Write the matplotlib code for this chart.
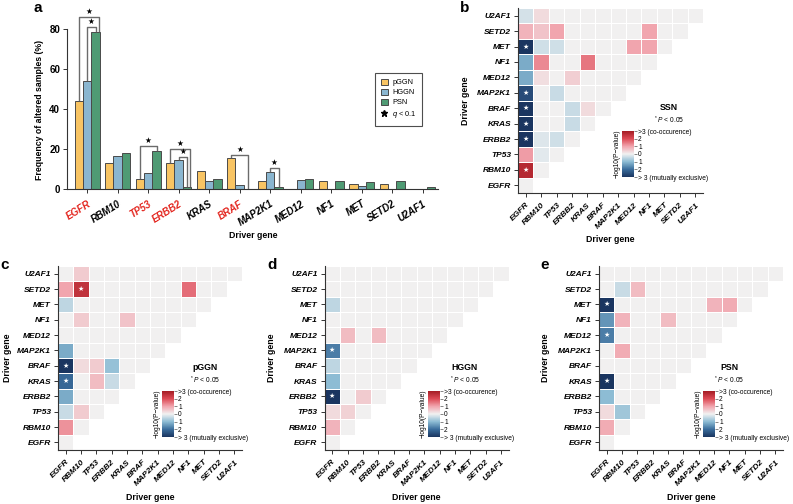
import numpy as np
import matplotlib
matplotlib.use("Agg")
import matplotlib.pyplot as plt
from matplotlib.colors import LinearSegmentedColormap, Normalize
from matplotlib.patches import Patch
from matplotlib.lines import Line2D

plt.rcParams["font.family"] = ["Liberation Sans", "DejaVu Sans"]
plt.rcParams["mathtext.fontset"] = "custom"
plt.rcParams["mathtext.rm"] = "Liberation Sans"
plt.rcParams["mathtext.it"] = "Liberation Sans:italic"

genes = ["EGFR", "RBM10", "TP53", "ERBB2", "KRAS", "BRAF", "MAP2K1",
         "MED12", "NF1", "MET", "SETD2", "U2AF1"]
red_genes = ["EGFR", "TP53", "ERBB2", "BRAF"]
groups = ["pGGN", "HGGN", "PSN"]

# frequency of altered samples (%)
pggn_freq = [44, 13, 5, 13, 9, 15.5, 4, 0, 4, 2.5, 2.5, 0]
hggn_freq = [54, 16.5, 8, 14.5, 4, 2, 8.5, 4.5, 0, 1.5, 0, 0]
psn_freq = [78.5, 18, 19, 1, 5, 0, 1, 5, 4, 3.5, 4, 1]

# significance brackets: gene, group a, group b, bracket height (%)
brackets = [("EGFR", 0, 2, 86), ("EGFR", 1, 2, 81),
            ("TP53", 0, 2, 21.5),
            ("ERBB2", 0, 2, 20), ("ERBB2", 1, 2, 16),
            ("BRAF", 0, 2, 17),
            ("MAP2K1", 1, 2, 10.5)]

# signed -log10(P): + co-occurrence, - mutual exclusivity
# one row per gene (EGFR at bottom), lower triangle only
ssn_rows = [
    [0],
    [2.7, 0],
    [1.1, -0.15, 0],
    [-3.5, -0.2, -0.35, 0],
    [-3.5, 0, 0, -0.4, 0],
    [-3.5, 0, 0, -0.4, 0.3, 0],
    [-2.6, 0, -0.4, 0, 0, 0, 0],
    [-1.2, 0.25, 0, 0.45, 0, 0, 0, 0],
    [-1.2, 1.3, 0, 0, 1.5, 0, 0, 0, 0],
    [-3.5, -0.35, -0.35, 0, 0, 0, 0, 1.0, 1.0, 0],
    [0.8, 0.6, 1.0, 0, 0, 0, 0, 0, 1.0, 0, 0],
    [-0.3, 0.3, 0, 0, 0, 0, 0, 0, 0, 0, 0, 0],
]
ssn_stars = [("RBM10", "EGFR"), ("ERBB2", "EGFR"), ("KRAS", "EGFR"),
             ("BRAF", "EGFR"), ("MAP2K1", "EGFR"), ("MET", "EGFR")]

pggn_rows = [
    [0],
    [1.2, 0],
    [-0.4, 0.5, 0],
    [-1.2, 0, 0, 0],
    [-2.1, 0, 0.7, -0.4, 0],
    [-3.5, 0.3, 0.5, -0.9, 0, 0],
    [-1.2, 0, 0, 0, 0, 0, 0],
    [0, 0, 0, 0, 0, 0, 0, 0],
    [0, 0.5, 0, 0, 0.6, 0, 0, 0, 0],
    [-0.5, 0, 0, 0, 0, 0, 0, 0, 0, 0],
    [1.0, 2.5, 0, 0, 0, 0, 0, 0, 1.6, 0, 0],
    [0, 0.5, 0, 0, 0, 0, 0, 0, 0, 0, 0, 0],
]
pggn_stars = [("KRAS", "EGFR"), ("BRAF", "EGFR"), ("SETD2", "RBM10")]

hggn_rows = [
    [0],
    [0.8, 0],
    [0.3, 0.4, 0],
    [-3.2, 0, 0.5, 0],
    [-1.0, 0, 0, 0, 0],
    [-0.5, 0, 0, 0, 0, 0],
    [-1.8, 0, 0, 0, 0, 0, 0],
    [0, 0.7, 0, 0.7, 0, 0, 0, 0],
    [0, 0, 0, 0, 0, 0, 0, 0, 0],
    [-0.5, 0, 0, 0, 0, 0, 0, 0, 0, 0],
    [0, 0, 0, 0, 0, 0, 0, 0, 0, 0, 0],
    [0, 0, 0, 0, 0, 0, 0, 0, 0, 0, 0, 0],
]
hggn_stars = [("ERBB2", "EGFR"), ("MAP2K1", "EGFR")]

psn_rows = [
    [0],
    [0.9, 0],
    [0.3, -0.8, 0],
    [-1.0, 0, 0, 0],
    [-3.5, 0, 0, 0, 0],
    [0, 0, 0, 0, 0, 0],
    [0, 0.9, 0, 0, 0, 0, 0],
    [-1.8, 0, 0, 0, 0, 0, 0, 0],
    [-1.5, 0.8, 0, 0, 0.7, 0, 0, 0, 0],
    [-3.5, 0, 0, 0, 0, 0, 0, 0.8, 0.9, 0],
    [0, -0.4, 0.7, 0, 0, 0, 0, 0, 0, 0, 0],
    [0, 0, 0, 0, 0, 0, 0, 0, 0, 0, 0, 0],
]
psn_stars = [("KRAS", "EGFR"), ("MED12", "EGFR"), ("MET", "EGFR")]

W, H = 793, 504
bar_colors = ["#F8C463", "#8AB6D0", "#4F9B74"]
spine_color = "#333333"
cmap = LinearSegmentedColormap.from_list(
    "coocc", ["#1a3560", "#3a6d9c", "#8dbcd4", "#f1f1f1",
              "#f1a5ae", "#dc4a55", "#a51c24"])


def px_rect(left, top, right, bottom):
    return [left / W, 1 - bottom / H, (right - left) / W, (bottom - top) / H]


def ftext(x, y, s, **kw):
    fig.text(x / W, 1 - y / H, s, **kw)


fig = plt.figure(figsize=(W / 100, H / 100), dpi=100)

# ---- panel a: bar chart ----
ax = fig.add_axes(px_rect(67, 9, 438, 189))
x = np.arange(len(genes))
bw = 0.275
freqs = [pggn_freq, hggn_freq, psn_freq]
for k, (vals, col, name) in enumerate(zip(freqs, bar_colors, groups)):
    ax.bar(x + (k - 1) * bw, vals, width=bw, color=col,
           edgecolor="#4a4a4a", linewidth=0.7, label=name)

for gene, a, b, top in brackets:
    gi = genes.index(gene)
    xa = gi + (a - 1) * bw
    xb = gi + (b - 1) * bw
    nested = any(g == gene and bb == b and aa > a for g, aa, bb, _ in brackets)
    if nested:
        xb += 0.1
    ya = freqs[a][gi] + 0.6
    yb = freqs[b][gi] + 0.6
    ax.plot([xa, xa, xb, xb], [ya, top, top, yb], color="#6b6b6b", lw=1)
    ax.text((xa + xb) / 2, top + 0.3, "★", ha="center", va="bottom",
            fontsize=5.5, family="DejaVu Sans")

ax.set_xlim(-0.66, 11.5)
ax.set_ylim(0, 90)
ax.set_yticks([0, 20, 40, 60, 80])
ax.set_xticks(x)
ax.set_xticklabels(genes, rotation=32, ha="right", rotation_mode="anchor",
                   fontsize=6.5, fontweight="bold", fontstyle="italic")
for lab in ax.get_xticklabels():
    if lab.get_text() in red_genes:
        lab.set_color("#E3261F")
for lab in ax.get_yticklabels():
    lab.set_fontweight("bold")
ax.tick_params(axis="both", length=3, width=0.7, color=spine_color,
               labelsize=7, pad=2)
ax.tick_params(axis="x", pad=4)
for s in ["top", "right"]:
    ax.spines[s].set_visible(False)
for s in ["left", "bottom"]:
    ax.spines[s].set_color(spine_color)
    ax.spines[s].set_linewidth(0.8)
ax.spines["left"].set_bounds(0, 80)
ftext(40, 110, "Frequency of altered samples (%)", rotation=90,
      ha="center", va="center", fontsize=6.3, fontweight="bold")
ftext(253, 235, "Driver gene", ha="center", va="center", fontsize=6.3,
      fontweight="bold")

handles = [Patch(facecolor=c, edgecolor="#4a4a4a", linewidth=0.7, label=g)
           for c, g in zip(bar_colors, groups)]
handles.append(Line2D([], [], marker="*", color="black", linestyle="none",
                      markersize=4.5, label="$q$ < 0.1"))
leg = fig.legend(handles=handles, loc="upper left",
                 bbox_to_anchor=(375 / W, 1 - 73 / H), fontsize=5.3,
                 frameon=True, fancybox=False, handlelength=1.0,
                 handleheight=0.9, handletextpad=0.6, borderpad=0.75,
                 labelspacing=0.35, borderaxespad=0)
leg.get_frame().set_edgecolor("#222222")
leg.get_frame().set_linewidth(0.8)


# ---- heatmaps ----
def heatmap(rect, rows, stars, title, cb_rect, title_x, ylab_x):
    left, top, right, bottom = rect
    hx = fig.add_axes(px_rect(left, top, right, bottom))
    n = len(genes)
    mat = np.full((n, n), np.nan)
    for i, r in enumerate(rows):
        mat[i, :len(r)] = r
    edges = np.arange(n + 1) - 0.5
    hx.pcolormesh(edges, edges, np.ma.masked_invalid(mat), cmap=cmap,
                  vmin=-3, vmax=3, edgecolors="white", linewidth=0.5)
    for rg, cg in stars:
        hx.text(genes.index(cg), genes.index(rg), "★", color="white",
                ha="center", va="center", fontsize=5, family="DejaVu Sans")
    hx.set_xlim(-0.5, n - 0.5)
    hx.set_ylim(-0.5, n - 0.5)
    hx.set_xticks(range(n))
    hx.set_yticks(range(n))
    hx.set_xticklabels(genes, rotation=45, ha="right", rotation_mode="anchor",
                       fontsize=6, fontweight="bold", fontstyle="italic")
    hx.set_yticklabels(genes, fontsize=6, fontweight="bold",
                       fontstyle="italic")
    hx.tick_params(axis="both", length=3, width=0.7, color=spine_color, pad=2)
    hx.tick_params(axis="x", pad=3)
    for s in ["top", "right"]:
        hx.spines[s].set_visible(False)
    for s in ["left", "bottom"]:
        hx.spines[s].set_color(spine_color)
        hx.spines[s].set_linewidth(0.8)

    ftext((left + right) / 2, bottom + 47, "Driver gene", ha="center",
          va="center", fontsize=6.3, fontweight="bold")
    ftext(ylab_x, (top + bottom) / 2, "Driver gene", rotation=90,
          ha="center", va="center", fontsize=6.3, fontweight="bold")

    cl, ct, cr, cbm = cb_rect
    ftext(title_x, ct - 24, title, ha="center", va="center", fontsize=6.3,
          fontweight="bold")
    ftext(title_x, ct - 11, "$^*P$ < 0.05", ha="center", va="center",
          fontsize=4.8)
    cax = fig.add_axes(px_rect(cl, ct, cr, cbm))
    sm = plt.cm.ScalarMappable(norm=Normalize(-3, 3), cmap=cmap)
    cb = fig.colorbar(sm, cax=cax)
    cb.set_ticks([3, 2, 1, 0, -1, -2, -3])
    cb.set_ticklabels([">3 (co-occurence)", "2", "1", "0", "1", "2",
                       "> 3 (mutually exclusive)"])
    cb.ax.tick_params(labelsize=4.8, length=2, width=0.5, pad=1,
                      color="#555555")
    cb.outline.set_visible(False)
    cb.ax.yaxis.set_label_position("left")
    cb.ax.set_ylabel("\u2212log10(P\u2212value)", fontsize=4.8, labelpad=1)
    return hx


heatmap((518, 8, 703, 193), ssn_rows, ssn_stars, "SSN",
        (622, 131, 634, 177), 669, 465)
heatmap((58, 266, 242, 450), pggn_rows, pggn_stars, "pGGN",
        (162, 391, 174, 437), 205, 7)
heatmap((324.5, 266, 508.5, 450), hggn_rows, hggn_stars, "HGGN",
        (428, 391, 440, 437), 465, 272)
heatmap((599, 266, 783, 450), psn_rows, psn_stars, "PSN",
        (703, 391, 715, 437), 729, 545)

# panel letters
for lx, ly, letter in [(38, 8, "a"), (465, 8, "b"), (5, 265, "c"),
                       (272, 265, "d"), (545, 265, "e")]:
    ftext(lx, ly, letter, ha="center", va="center", fontsize=11,
          fontweight="bold")

fig.savefig("out.png", dpi=100)
